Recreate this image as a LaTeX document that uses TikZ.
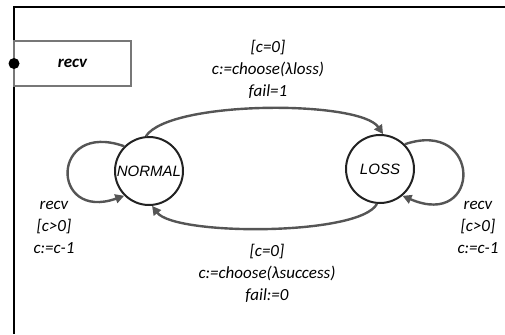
\documentclass[tikz,border=0pt]{standalone}
\usepackage{fontspec}
\setmainfont{Carlito}
\newfontfamily\statefont{Liberation Sans}
\usetikzlibrary{arrows.meta,positioning}
\definecolor{framegray}{HTML}{777777}
\definecolor{edgegray}{HTML}{555555}
\definecolor{stateink}{HTML}{222222}
\tikzset{
  portbox/.style={
    draw=framegray,
    line width=1.8pt,
    minimum width=117pt,
    minimum height=45pt,
    inner sep=0pt,
    font=\bfseries\itshape\fontsize{17}{20}\selectfont
  },
  statenode/.style={
    circle,
    draw=stateink,
    line width=2pt,
    minimum size=68pt,
    inner sep=0pt,
    font=\statefont\itshape\fontsize{15}{18}\selectfont
  },
  guard/.style={
    align=center,
    inner sep=0pt,
    font=\itshape\fontsize{17}{22}\selectfont
  },
  trans/.style={
    -{Triangle[length=9pt,width=9pt]},
    line width=2.4pt,
    draw=edgegray
  }
}
\begin{document}
\begin{tikzpicture}[x=1pt,y=-1pt]
\useasboundingbox (0,0) rectangle (505,334);
\draw[line width=2pt] (505,7) -- (14,7) -- (14,334);
\node[portbox] (recvbox) at (72.5,63.5) {recv};
\node[circle, fill=black, minimum size=11pt, inner sep=0pt] (port) at (14,63.5) {};
\node[statenode] (normal) at (149,171) {NORMAL};
\node[statenode] (loss) at (380,169) {LOSS};
\draw[trans] (normal.95) .. controls (170,100) and (360,100) .. (loss.85);
\draw[trans] (loss.265) .. controls (360,236) and (175,236) .. (normal.275);
\draw[trans] (normal.135) .. controls (50,120) and (50,222) .. (normal.225);
\draw[trans] (loss.45) .. controls (482,118) and (482,230) .. (loss.-50);
\node[guard] (lossguard) at (268,69) {[c=0]\\c:=choose(λloss)\\fail=1};
\node[guard] (normalguard) at (267,273) {[c=0]\\c:=choose(λsuccess)\\fail:=0};
\node[guard] (normalloop) at (54,227) {recv\\{[c>0]}\\c:=c-1};
\node[guard] (lossloop) at (478,227) {recv\\{[c>0]}\\c:=c-1};
\end{tikzpicture}
\end{document}
